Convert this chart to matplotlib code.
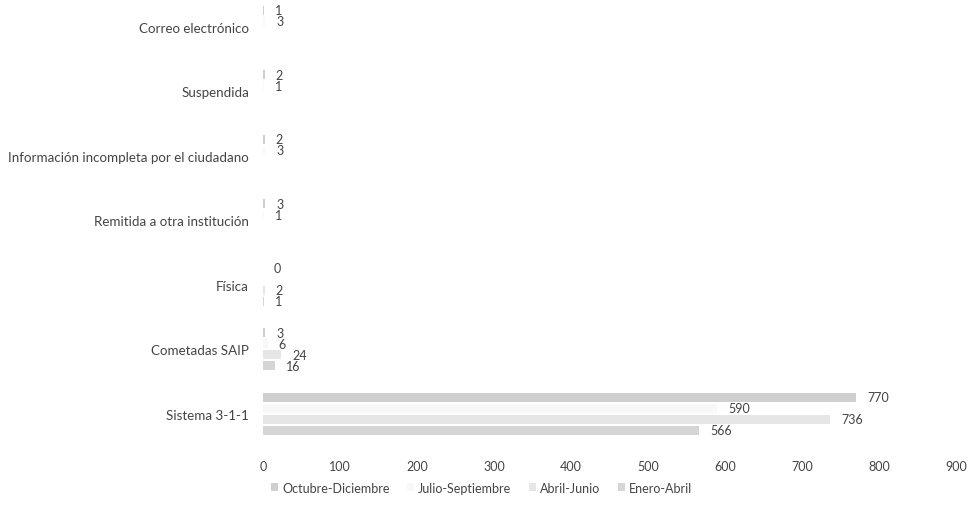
import numpy as np
import matplotlib
matplotlib.use("Agg")
import matplotlib.pyplot as plt

plt.rcParams['font.family'] = ['Lato', 'DejaVu Sans']

# categories bottom -> top
categorias = ['Sistema 3-1-1', 'Cometadas SAIP', 'Física',
              'Remitida a otra institución',
              'Información incompleta por el ciudadano',
              'Suspendida', 'Correo electrónico']

series = ['Octubre-Diciembre', 'Julio-Septiembre', 'Abril-Junio', 'Enero-Abril']

oct_dic = [770, 3, 0, 3, 2, 2, 1]
jul_sep = [590, 6, None, 1, 3, 1, 3]
abr_jun = [736, 24, 2, None, None, None, None]
ene_abr = [566, 16, 1, None, None, None, None]

valores = [oct_dic, jul_sep, abr_jun, ene_abr]
colores = ['#cfcfcf', '#f8f8f8', '#e6e6e6', '#d5d5d5']
texto = '#444444'

fig = plt.figure(figsize=(9.68, 5.06), dpi=100)
ax = fig.add_axes([0.2717, 0.1166, 0.716, 0.8834])

y = np.arange(len(categorias))
paso = 0.17
alto = 0.14
offsets = [1.5 * paso, 0.5 * paso, -0.5 * paso, -1.5 * paso]

for vals, col, off, nombre in zip(valores, colores, offsets, series):
    xs = [v if v is not None else 0 for v in vals]
    bars = ax.barh(y + off, xs, height=alto, color=col, label=nombre)
    for b, v in zip(bars, vals):
        if v is None:
            continue
        ax.annotate(str(v), (b.get_width(), b.get_y() + b.get_height() / 2),
                    xytext=(8, 0), textcoords='offset points',
                    ha='left', va='center', fontsize=9, color=texto)

ax.set_xlim(0, 900)
ax.set_ylim(-0.5, 6.43)
ax.set_xticks(range(0, 1000, 100))
ax.set_yticks(y)
ax.set_yticklabels(categorias)
ax.tick_params(axis='both', length=0, colors=texto)
ax.tick_params(axis='x', pad=10, labelsize=9)
ax.tick_params(axis='y', pad=10, labelsize=9.6)
for s in ax.spines.values():
    s.set_visible(False)

fig.legend(loc='lower left', bbox_to_anchor=(0.268, 0.0), ncol=4, frameon=False,
           fontsize=9, handlelength=0.6, handleheight=0.6, handletextpad=0.3,
           columnspacing=1.4, labelcolor=texto)

fig.savefig('out.png', dpi=100)
